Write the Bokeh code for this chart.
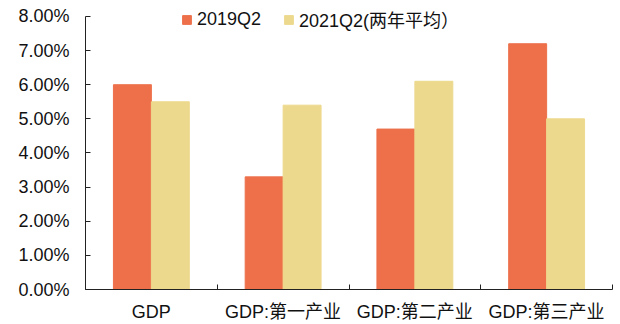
from bokeh.plotting import figure
from bokeh.models import (ColumnDataSource, FixedTicker, Range1d,
                          Legend, LegendItem)
from bokeh.embed import file_html
from bokeh.resources import INLINE

# GDP growth by sector, percent
categories = ["GDP", "GDP:第一产业", "GDP:第二产业", "GDP:第三产业"]
growth_2019q2 = [6.0, 3.3, 4.7, 7.2]
growth_2021q2_avg = [5.5, 5.4, 6.1, 5.0]
series_names = ["2019Q2", "2021Q2(两年平均）"]
y_ticks = [0, 1, 2, 3, 4, 5, 6, 7, 8]

ORANGE = "#ED704B"
YELLOW = "#EDD98D"
FONT = "Liberation Sans, Arial, Noto Sans CJK SC, sans-serif"
FS = "18px"

centers = [i + 0.5 for i in range(len(categories))]
bar_w = 0.288
src = ColumnDataSource(dict(
    x1=[c - bar_w / 2 for c in centers],
    x2=[c + bar_w / 2 for c in centers],
    v1=growth_2019q2,
    v2=growth_2021q2_avg,
))

# the frame reaches the top edge so the legend can sit above the 8% line
p = figure(width=620, height=324, output_backend="svg", toolbar_location=None,
           x_range=Range1d(0, len(categories)), y_range=Range1d(0, 8.467),
           min_border_left=85, min_border_right=8, min_border_top=0,
           min_border_bottom=34)
p.outline_line_color = None
p.background_fill_color = "white"
p.border_fill_color = "white"
p.xgrid.visible = False
p.ygrid.visible = False

r1 = p.vbar(x="x1", top="v1", width=bar_w, bottom=0, source=src,
            fill_color=ORANGE, line_color=ORANGE)
r2 = p.vbar(x="x2", top="v2", width=bar_w, bottom=0, source=src,
            fill_color=YELLOW, line_color=YELLOW)

# y axis
ya = p.yaxis[0]
ya.bounds = (0, 8)
ya.ticker = FixedTicker(ticks=y_ticks)
ya.major_label_overrides = {t: f"{t:.2f}%" for t in y_ticks}
ya.major_tick_in = 5
ya.major_tick_out = 0
ya.minor_tick_line_color = None
ya.axis_line_color = "#222222"
ya.major_tick_line_color = "#222222"
ya.major_label_text_font = FONT
ya.major_label_text_font_size = FS
ya.major_label_text_color = "#111111"
ya.major_label_standoff = 16

# x axis: labels at group centres, tick marks between groups
xa = p.xaxis[0]
xa.ticker = FixedTicker(ticks=centers,
                        minor_ticks=list(range(len(categories) + 1)))
xa.major_label_overrides = {c: n for c, n in zip(centers, categories)}
xa.major_tick_line_color = None
xa.minor_tick_in = 5
xa.minor_tick_out = 0
xa.minor_tick_line_color = "#222222"
xa.axis_line_color = "#222222"
xa.major_label_text_font = FONT
xa.major_label_text_font_size = FS
xa.major_label_text_color = "#111111"
xa.major_label_standoff = 6

legend = Legend(items=[LegendItem(label=series_names[0], renderers=[r1]),
                       LegendItem(label=series_names[1], renderers=[r2])],
                orientation="horizontal", location=(96, 257),
                glyph_width=11, glyph_height=11, label_standoff=5,
                spacing=22, padding=0, margin=0, label_height=20,
                border_line_color=None, background_fill_alpha=0,
                label_text_font=FONT, label_text_font_size=FS,
                label_text_color="#111111")
p.add_layout(legend, "center")

open("out.html", "w").write(file_html(p, INLINE))
